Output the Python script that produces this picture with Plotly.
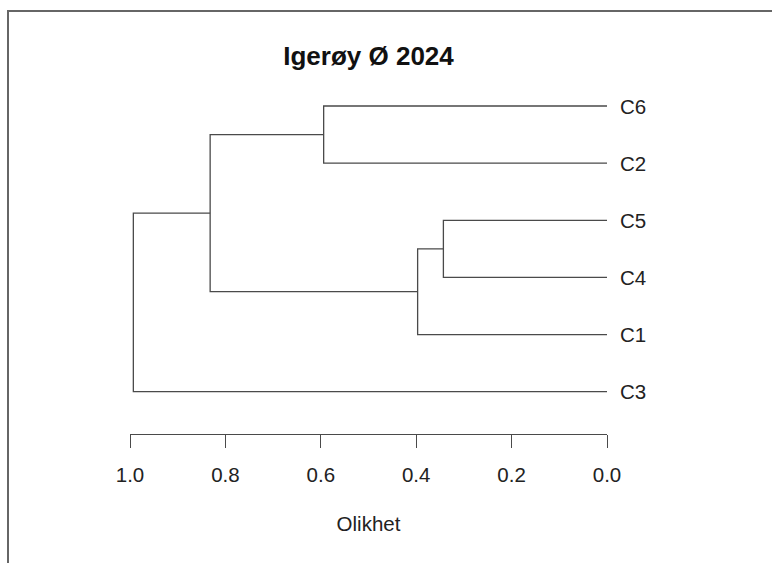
import plotly.graph_objects as go

# Leaf order as drawn, top to bottom
leaves = ["C6", "C2", "C5", "C4", "C1", "C3"]

# Agglomeration steps: (left member, right member, merge height)
merge_left = ["C5", "C5+C4", "C6", "C6+C2", "C6+C2+C5+C4+C1"]
merge_right = ["C4", "C1", "C2", "C5+C4+C1", "C3"]
merge_height = [0.343, 0.397, 0.594, 0.832, 0.993]

x_ticks = [1.0, 0.8, 0.6, 0.4, 0.2, 0.0]
x_ticklabels = ["1.0", "0.8", "0.6", "0.4", "0.2", "0.0"]

title_text = "Igerøy Ø 2024"
x_title = "Olikhet"

FONT = "Liberation Sans, Arial, sans-serif"
LINE = "#4a4a4a"

W, H = 772, 563
L, R, T, B = 130, 165, 80, 129

# vertical positions: bottom leaf = 1
pos = {name: len(leaves) - i for i, name in enumerate(leaves)}
height = {name: 0.0 for name in leaves}

fig = go.Figure()
for a, b, h in zip(merge_left, merge_right, merge_height):
    ya, yb = pos[a], pos[b]
    ha, hb = height[a], height[b]
    fig.add_trace(go.Scatter(
        x=[ha, h, h, hb], y=[ya, ya, yb, yb],
        mode="lines", line=dict(color=LINE, width=1.3),
        hoverinfo="skip", showlegend=False,
    ))
    key = a + "+" + b
    pos[key] = (ya + yb) / 2
    height[key] = h

for name in leaves:
    fig.add_annotation(
        x=0, y=pos[name], xref="x", yref="y", text=name,
        showarrow=False, xanchor="left", yanchor="middle", xshift=11,
        font=dict(family=FONT, size=20.5, color="#222222"),
    )

plot_h = H - T - B
unit = (391.7 - 106) / (len(leaves) - 1)
y_lo = 1 - (H - B - 391.7) / unit
y_hi = len(leaves) + (106 - T) / unit

fig.update_layout(
    width=W, height=H,
    margin=dict(l=L, r=R, t=T, b=B),
    paper_bgcolor="white", plot_bgcolor="white",
    title=dict(text=f"<b>{title_text}</b>", x=(L + (W - L - R) / 2) / W,
               xref="container", xanchor="center",
               y=1 - 56 / H, yref="container", yanchor="middle",
               font=dict(family=FONT, size=26, color="#111111")),
    xaxis=dict(
        range=[1.0, 0.0], tickvals=x_ticks, ticktext=x_ticklabels,
        showgrid=False, zeroline=False, showline=True,
        linecolor=LINE, linewidth=1.3, ticks="outside", ticklen=13,
        tickwidth=1.3, tickcolor=LINE, ticklabelstandoff=9,
        tickfont=dict(family=FONT, size=20.5, color="#222222"),
        title=dict(text=x_title, standoff=31,
                   font=dict(family=FONT, size=20.5, color="#222222")),
    ),
    yaxis=dict(range=[y_lo, y_hi], visible=False),
)

# outer frame: left and top edges
pw = W - L - R
fx0 = (8 - L) / pw
fx1 = (W + 5 - L) / pw
fy_top = (H - B - 11) / plot_h
fy_bot = (H - B - H - 5) / plot_h
fig.add_shape(type="path", xref="paper", yref="paper",
              path=f"M {fx0} {fy_bot} L {fx0} {fy_top} L {fx1} {fy_top}",
              line=dict(color="#666666", width=2))

fig.write_html("out.html")
